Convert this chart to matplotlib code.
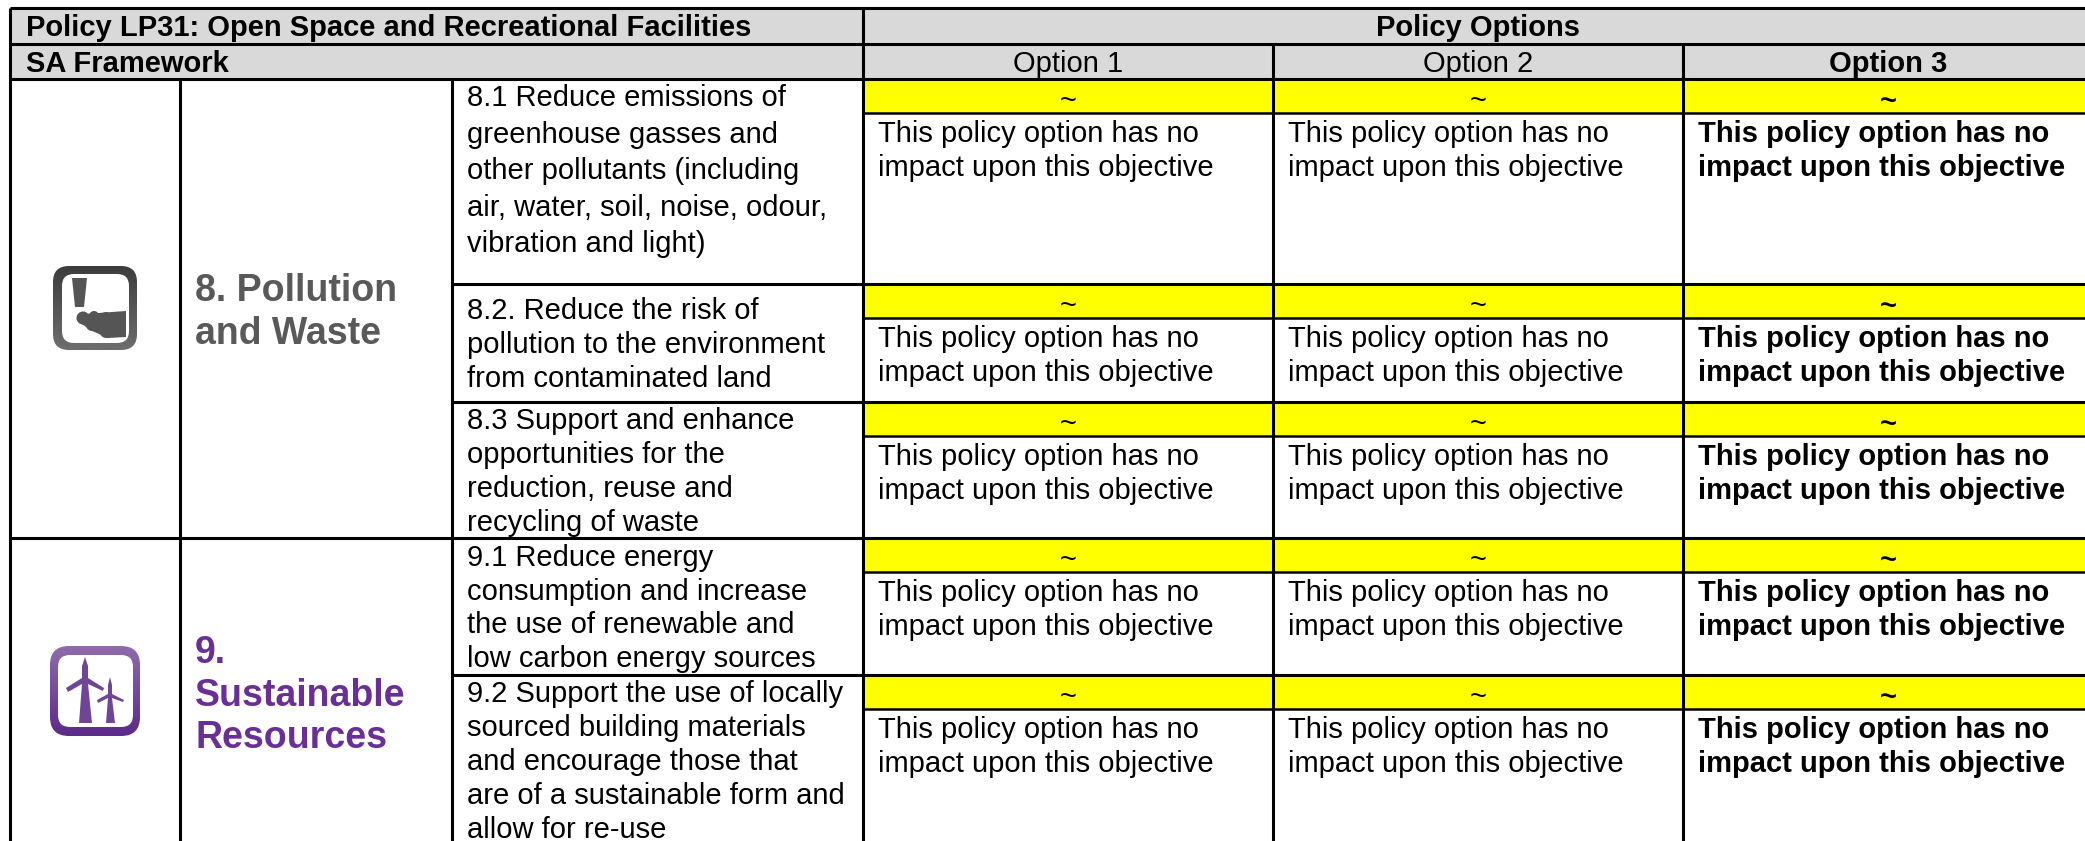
import numpy as np
import matplotlib
matplotlib.use('Agg')
import matplotlib.pyplot as plt
from matplotlib.patches import Rectangle, FancyBboxPatch, Polygon, Circle

plt.rcParams['font.family'] = ['Liberation Sans', 'DejaVu Sans']

# table content
policy_title = 'Policy LP31: Open Space and Recreational Facilities'
options_title = 'Policy Options'
framework_title = 'SA Framework'
option_names = ['Option 1', 'Option 2', 'Option 3']
option_score = '~'
option_text = ['This policy option has no', 'impact upon this objective']
themes = [['8. Pollution', 'and Waste'], ['9.', 'Sustainable', 'Resources']]
objectives = [
    ['8.1 Reduce emissions of', 'greenhouse gasses and', 'other pollutants (including',
     'air, water, soil, noise, odour,', 'vibration and light)'],
    ['8.2. Reduce the risk of', 'pollution to the environment', 'from contaminated land'],
    ['8.3 Support and enhance', 'opportunities for the', 'reduction, reuse and',
     'recycling of waste'],
    ['9.1 Reduce energy', 'consumption and increase', 'the use of renewable and',
     'low carbon energy sources'],
    ['9.2 Support the use of locally', 'sourced building materials',
     'and encourage those that', 'are of a sustainable form and', 'allow for re-use'],
]

# layout in pixels
W, H = 2085, 841
col_x = [10, 180, 452, 863, 1273, 1683, 2093]
head_y = [8, 44, 79]
row_tops = [79, 284, 402, 538, 675, 880]
yellow_h = 34
objective_first = [106, 319, 429, 566, 702]
objective_step = [36.6, 34, 34, 33.7, 34]
GREY = '#d9d9d9'
FS = 21

fig = plt.figure(figsize=(W / 100, H / 100), dpi=100)
ax = fig.add_axes([0, 0, 1, 1])
ax.set_xlim(0, W)
ax.set_ylim(H, 0)
ax.axis('off')


def gradient(patch, top, bottom, y0, y1):
    # vertical gradient clipped to a patch
    ax.add_patch(patch)
    patch.set_facecolor('none')
    patch.set_edgecolor('none')
    c0 = np.array(matplotlib.colors.to_rgb(top))
    c1 = np.array(matplotlib.colors.to_rgb(bottom))
    t = np.linspace(0, 1, 64).reshape(-1, 1, 1)
    img = ax.imshow(c0 + (c1 - c0) * t, extent=[0, W, y1, y0], aspect='auto',
                    interpolation='bilinear', zorder=5)
    img.set_clip_path(patch)


def rounded(x0, y0, x1, y1, r):
    return FancyBboxPatch((x0 + r, y0 + r), x1 - x0 - 2 * r, y1 - y0 - 2 * r,
                          boxstyle=f'round,pad={r},rounding_size={r}', linewidth=0)


# fills
ax.add_patch(Rectangle((col_x[0], head_y[0]), W, head_y[2] - head_y[0], color=GREY, lw=0))
for top in row_tops[:-1]:
    ax.add_patch(Rectangle((col_x[3], top), W, yellow_h, color='#ffff00', lw=0))

# rules
LW = 2.2
ax.hlines(head_y, col_x[0], W, color='black', lw=LW)
ax.hlines([row_tops[3]], col_x[0], W, color='black', lw=LW)
ax.hlines([row_tops[1], row_tops[2], row_tops[4]], col_x[2], W, color='black', lw=LW)
ax.hlines([t + yellow_h for t in row_tops[:-1]], col_x[3], W, color='black', lw=1.8)
ax.vlines(col_x[0], head_y[0], H, color='black', lw=LW)
ax.vlines(col_x[1:3], head_y[2], H, color='black', lw=LW)
ax.vlines(col_x[3], head_y[0], H, color='black', lw=LW)
ax.vlines(col_x[4:6], head_y[1], H, color='black', lw=LW)

# header
ax.text(col_x[0] + 16, 36, policy_title, fontsize=FS, fontweight='bold', va='baseline')
ax.text(col_x[0] + 16, 72, framework_title, fontsize=FS, fontweight='bold', va='baseline')
ax.text((col_x[3] + col_x[6]) / 2, 36, options_title, fontsize=FS, fontweight='bold',
        ha='center', va='baseline')
for i, name in enumerate(option_names):
    ax.text((col_x[3 + i] + col_x[4 + i]) / 2, 72, name, fontsize=FS, ha='center', va='baseline',
            fontweight='bold' if i == 2 else 'normal')

# theme names
for j, line in enumerate(themes[0]):
    ax.text(col_x[1] + 15, 301 + 43 * j, line, fontsize=27, fontweight='bold', color='#595959',
            va='baseline')
for j, line in enumerate(themes[1]):
    ax.text(col_x[1] + 15, 663 + 42.5 * j, line, fontsize=27, fontweight='bold', color='#6a2f96',
            va='baseline')

# objectives and options
for r, lines in enumerate(objectives):
    for j, line in enumerate(lines):
        ax.text(col_x[2] + 15, objective_first[r] + objective_step[r] * j, line, fontsize=FS,
                va='baseline')
    for i in range(3):
        weight = 'bold' if i == 2 else 'normal'
        ax.text((col_x[3 + i] + col_x[4 + i]) / 2, row_tops[r] + 30, option_score, fontsize=FS,
                fontweight=weight, ha='center', va='baseline')
        for j, line in enumerate(option_text):
            ax.text(col_x[3 + i] + 15, row_tops[r] + yellow_h + 29 + 34 * j, line, fontsize=FS,
                    fontweight=weight, va='baseline')

# pollution icon
g0, g1, gy0, gy1 = '#3c3c3c', '#6e6e6e', 266, 350
gradient(rounded(53, 266, 137, 350, 16), g0, g1, gy0, gy1)
ax.add_patch(FancyBboxPatch((74, 286), 43, 45, boxstyle='round,pad=12,rounding_size=12',
                            fc='white', ec='none', zorder=6))
for part in [Polygon([(72, 278), (87, 278), (84, 307), (75, 307)]),
             Polygon([(84, 314), (126, 311), (126, 337), (108, 338), (90, 330), (82, 324)]),
             Circle((83, 318), 6.5), Circle((94, 316), 5), Circle((106, 317), 5),
             Circle((92, 325), 6), Circle((106, 332), 6)]:
    part.set_zorder(7)
    ax.add_patch(part)
    part.set_facecolor('#555555')
    part.set_edgecolor('none')

# resources icon
p0, p1 = '#8f6bab', '#5c2a8a'
gradient(rounded(50, 646, 140, 736, 19), p0, p1, 646, 736)
ax.add_patch(FancyBboxPatch((70, 667), 51, 48, boxstyle='round,pad=12,rounding_size=12',
                            fc='white', ec='none', zorder=6))
turbines = [
    [(85, 657), (88, 666), (88, 678), (104, 688), (103, 691), (88, 684), (92, 723), (79, 723),
     (82, 684), (68, 692), (66, 688), (82, 678), (82, 666)],
    [(110, 677), (112, 685), (112, 694), (124, 700), (123, 702), (112, 698), (115, 723),
     (106, 723), (108, 698), (98, 703), (97, 700), (108, 694), (108, 685)],
]
for pts in turbines:
    ax.add_patch(Polygon(pts, fc='#6f4596', ec='none', zorder=7))

ax.set_xlim(0, W)
ax.set_ylim(H, 0)
fig.savefig('out.png', dpi=100)
